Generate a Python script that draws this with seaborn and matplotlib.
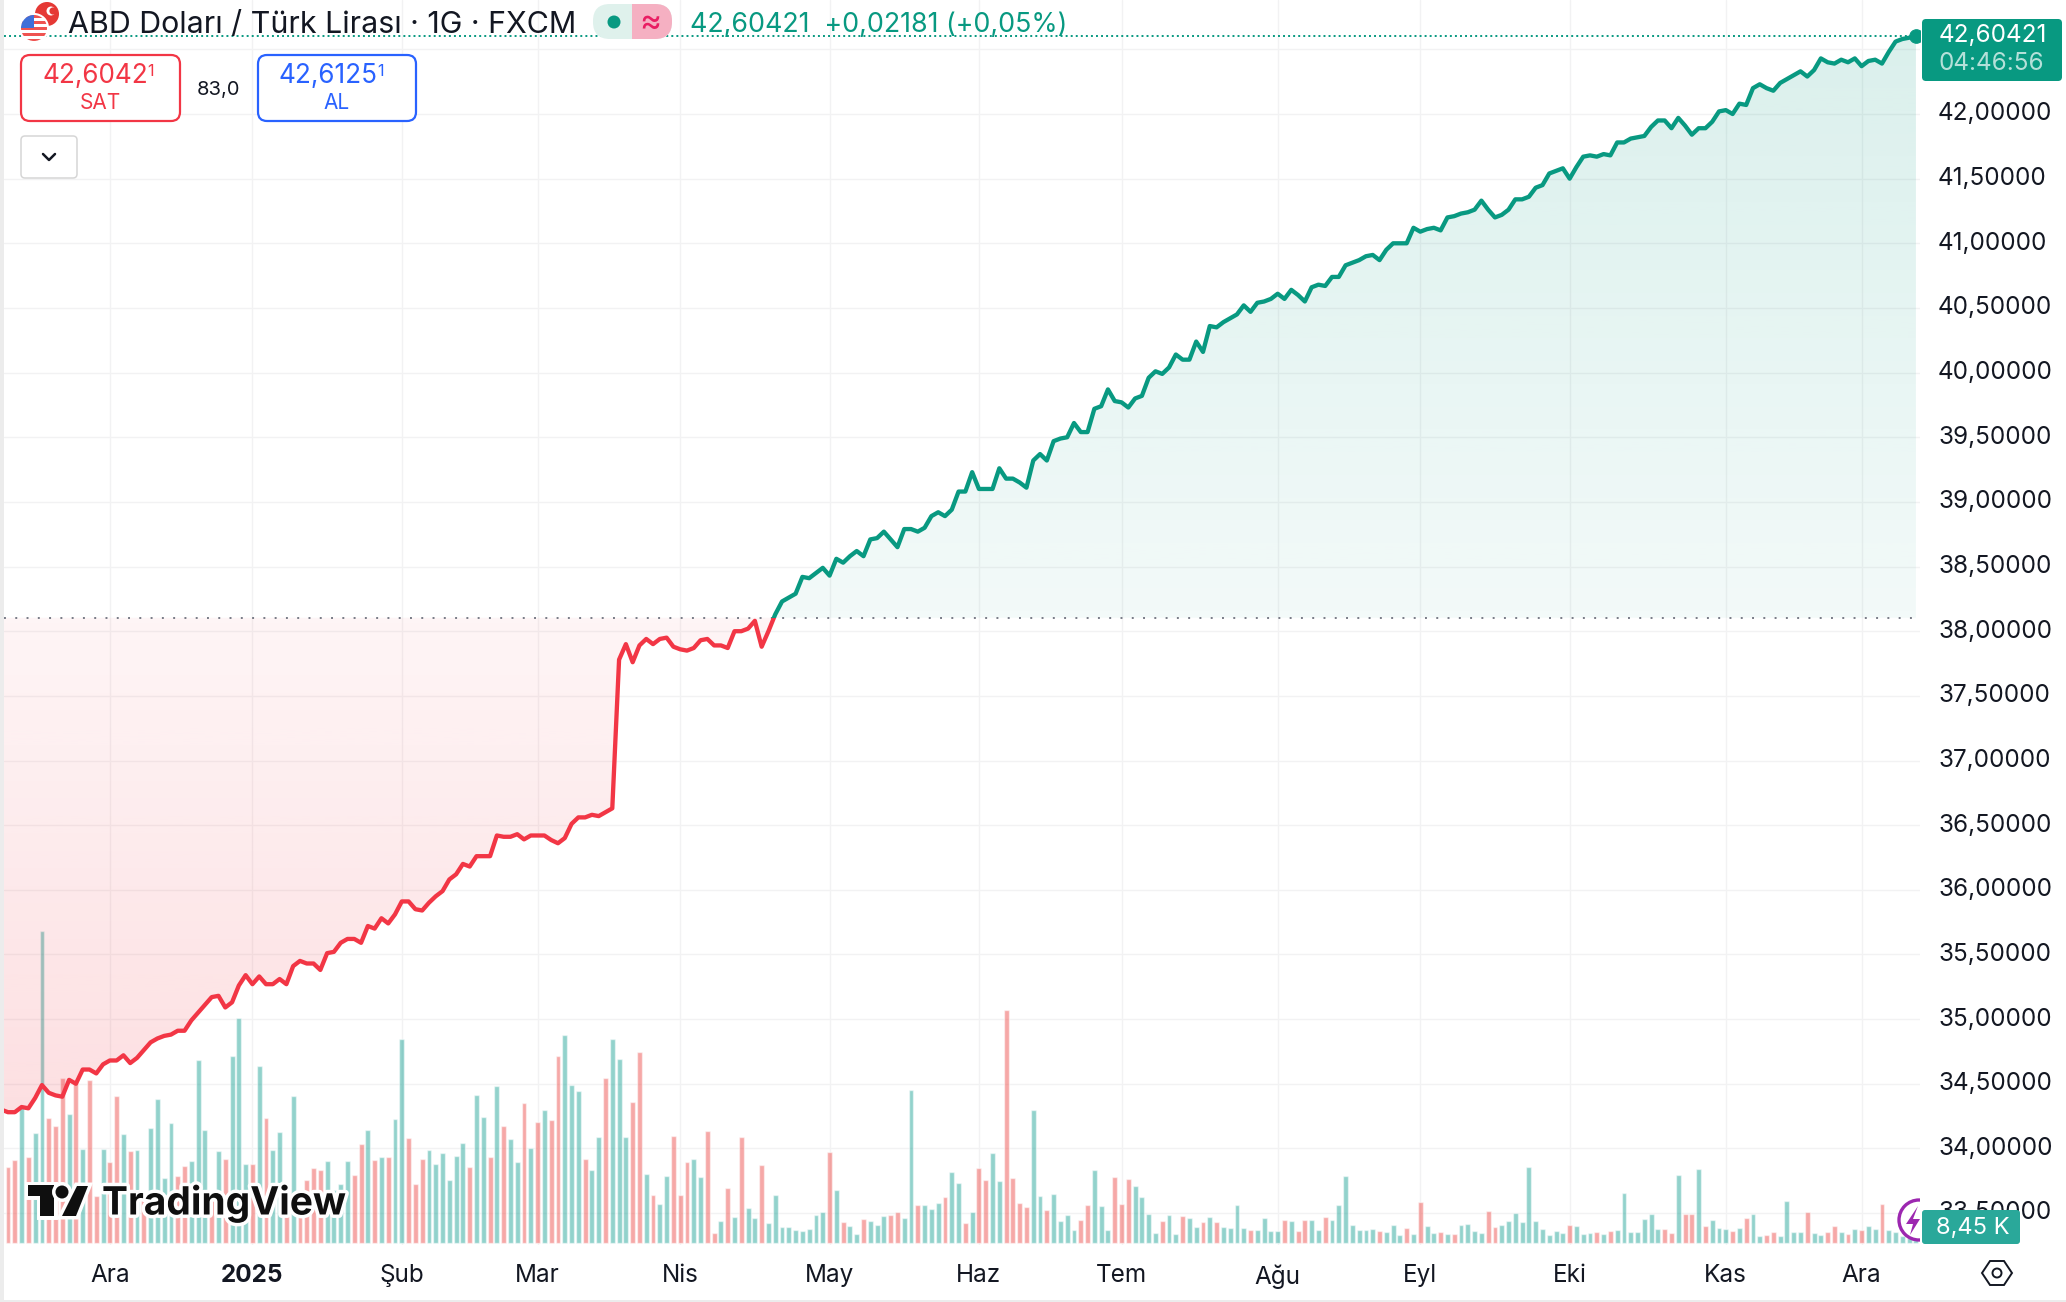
import numpy as np
import pandas as pd
import matplotlib
matplotlib.use('Agg')
import matplotlib.pyplot as plt
import matplotlib.patheffects as pe
from matplotlib.patches import Circle, FancyBboxPatch, Polygon, Rectangle
from matplotlib.path import Path
from matplotlib.colors import LinearSegmentedColormap
from matplotlib.transforms import ScaledTranslation
import seaborn as sns

# Daily closes, first value is the session just left of the chart edge
price = [
    34.30,
    34.28, 34.28, 34.32, 34.31, 34.39, 34.49, 34.43, 34.41, 34.40, 34.53,
    34.50, 34.61, 34.61, 34.58, 34.65, 34.68, 34.68, 34.72, 34.66, 34.70,
    34.76, 34.82, 34.85, 34.87, 34.88, 34.91, 34.91, 34.99, 35.05, 35.11,
    35.17, 35.18, 35.09, 35.13, 35.26, 35.34, 35.27, 35.33, 35.27, 35.27,
    35.31, 35.27, 35.41, 35.45, 35.43, 35.43, 35.38, 35.51, 35.52, 35.59,
    35.62, 35.62, 35.59, 35.72, 35.70, 35.78, 35.74, 35.81, 35.91, 35.91,
    35.85, 35.84, 35.90, 35.95, 35.99, 36.08, 36.12, 36.20, 36.18, 36.26,
    36.26, 36.26, 36.42, 36.41, 36.41, 36.43, 36.39, 36.42, 36.42, 36.42,
    36.385, 36.36, 36.40, 36.51, 36.56, 36.56, 36.58, 36.57, 36.60, 36.63,
    37.78, 37.90, 37.76, 37.89, 37.94, 37.90, 37.94, 37.95, 37.88, 37.86,
    37.85, 37.87, 37.93, 37.94, 37.89, 37.89, 37.87, 38.00, 38.00, 38.02,
    38.08, 37.88, 38.00, 38.13, 38.23, 38.26, 38.29, 38.42, 38.41, 38.45,
    38.49, 38.43, 38.56, 38.53, 38.58, 38.62, 38.58, 38.71, 38.72, 38.77,
    38.71, 38.65, 38.79, 38.79, 38.77, 38.80, 38.89, 38.92, 38.89, 38.94,
    39.08, 39.08, 39.23, 39.10, 39.10, 39.10, 39.26, 39.18, 39.18, 39.15,
    39.11, 39.32, 39.37, 39.32, 39.47, 39.49, 39.50, 39.61, 39.54, 39.54,
    39.72, 39.74, 39.87, 39.78, 39.77, 39.73, 39.80, 39.82, 39.96, 40.01,
    39.99, 40.04, 40.14, 40.10, 40.10, 40.24, 40.16, 40.36, 40.35, 40.39,
    40.42, 40.45, 40.52, 40.47, 40.54, 40.55, 40.57, 40.61, 40.57, 40.64,
    40.60, 40.55, 40.66, 40.68, 40.67, 40.74, 40.74, 40.83, 40.85, 40.87,
    40.90, 40.91, 40.87, 40.95, 41.00, 41.00, 41.00, 41.12, 41.09, 41.11,
    41.12, 41.10, 41.20, 41.21, 41.23, 41.24, 41.26, 41.33, 41.26, 41.20,
    41.22, 41.26, 41.34, 41.34, 41.36, 41.43, 41.45, 41.54, 41.56, 41.58,
    41.50, 41.59, 41.67, 41.68, 41.67, 41.69, 41.68, 41.78, 41.78, 41.81,
    41.82, 41.83, 41.90, 41.95, 41.95, 41.89, 41.97, 41.91, 41.84, 41.89,
    41.89, 41.94, 42.02, 42.03, 42.00, 42.08, 42.07, 42.20, 42.23, 42.20,
    42.18, 42.24, 42.27, 42.30, 42.33, 42.29, 42.34, 42.43, 42.40, 42.39,
    42.42, 42.40, 42.43, 42.37, 42.41, 42.42, 42.39, 42.48, 42.56, 42.58,
    42.59, 42.60421,
]

# Volume bars, relative height
volume = [
    76, 83, 137, 86, 110, 312, 125, 117, 165, 129,
    161, 94, 163, 47, 94, 81, 147, 109, 92, 93,
    43, 115, 144, 65, 120, 67, 77, 82, 183, 113,
    49, 92, 84, 187, 225, 79, 79, 177, 125, 93,
    111, 49, 147, 43, 63, 75, 73, 82, 53, 59,
    82, 68, 99, 113, 83, 86, 86, 124, 204, 105,
    59, 84, 93, 79, 90, 63, 87, 100, 76, 148,
    126, 86, 157, 117, 104, 81, 140, 95, 121, 133,
    123, 187, 208, 158, 152, 84, 73, 106, 165, 204,
    184, 106, 141, 191, 69, 48, 39, 67, 107, 48,
    81, 84, 66, 112, 10, 22, 55, 26, 106, 35,
    25, 78, 20, 48, 16, 16, 13, 12, 14, 28,
    31, 91, 53, 21, 17, 9, 24, 22, 18, 27,
    28, 31, 25, 153, 38, 38, 34, 40, 46, 71,
    60, 20, 31, 75, 63, 90, 62, 233, 65, 40,
    36, 133, 47, 33, 49, 22, 28, 13, 23, 38,
    73, 37, 13, 66, 39, 64, 57, 46, 29, 10,
    22, 28, 9, 27, 25, 16, 21, 26, 21, 16,
    15, 38, 15, 13, 13, 25, 12, 12, 23, 22,
    12, 23, 23, 13, 26, 23, 38, 67, 18, 13,
    13, 14, 12, 11, 18, 8, 15, 9, 41, 17,
    10, 11, 9, 9, 18, 19, 12, 10, 32, 16,
    18, 22, 30, 21, 76, 22, 14, 8, 12, 10,
    18, 17, 9, 10, 11, 9, 12, 13, 50, 11,
    11, 24, 29, 14, 14, 10, 68, 29, 29, 74,
    17, 23, 15, 14, 12, 15, 25, 29, 7, 8,
    11, 7, 42, 11, 11, 31, 10, 8, 11, 17,
    11, 9, 14, 13, 17, 14, 39, 13, 11, 7,
    5, 3,
]

# u = session closed up, d = closed down, ten per row
direction_rows = [
    'dduduudddu', 'dudduddudu', 'duuuudduuu', 'duduuududu', 'ududddduuu',
    'uddududuud', 'dduuuuuudu', 'ududuududu', 'dduuuduudu', 'uudduduudd',
    'duuddududu', 'uduuuuuuuu', 'ududuuduuu', 'dduuduuudu', 'ududduuddd',
    'duuduuuudd', 'uuuddduuuu', 'duuduududu', 'uuuduuuudu', 'dduuduuuuu',
    'uuduuududu', 'ududuuuudd', 'uuuuuuuuuu', 'duuududuuu', 'uuuudduddu',
    'duuududuud', 'duuuuduudd', 'ududuuduuu', 'uu',
]
direction = list(''.join(direction_rows))

# Tick positions are session numbers
month_ticks = [15, 36, 58, 78, 99, 121, 143, 164, 187, 208, 230, 253, 273]
month_labels = ['Ara', '2025', 'Şub', 'Mar', 'Nis', 'May', 'Haz', 'Tem', 'Ağu', 'Eyl', 'Eki', 'Kas', 'Ara']
price_ticks = [33.5, 34.0, 34.5, 35.0, 35.5, 36.0, 36.5, 37.0, 37.5, 38.0, 38.5, 39.0, 39.5, 40.0, 40.5, 41.0, 41.5, 42.0, 42.5]
price_labels = ['33,50000', '34,00000', '34,50000', '35,00000', '35,50000', '36,00000', '36,50000', '37,00000',
                '37,50000', '38,00000', '38,50000', '39,00000', '39,50000', '40,00000', '40,50000', '41,00000',
                '41,50000', '42,00000', '']
base_price = 38.104
last_price = 42.60421

UP = '#089981'
DOWN = '#f23645'
INK = '#131722'
W, H = 2066, 1302

sns.set_style('white')
plt.rcParams['font.family'] = ['Inter', 'DejaVu Sans']

days = np.arange(-1, len(price) - 1)
line_df = pd.DataFrame({'day': days, 'price': price})
bar_df = pd.DataFrame({'day': np.arange(len(volume)), 'volume': volume, 'dir': direction})

fig = plt.figure(figsize=(W / 100, H / 100), dpi=100)
rect = [4 / W, (H - 1245) / H, (1920 - 4) / W, 1245 / H]
xlim = (-0.589, 281.6)
ylim = (33.2529, 42.8817)

# Grid and tick labels at the bottom
ax = fig.add_axes(rect, zorder=1)
ax.set_xlim(xlim)
ax.set_ylim(ylim)
ax.set_xticks(month_ticks)
ax.set_xticklabels(month_labels, fontsize=17.5, color=INK)
ax.get_xticklabels()[1].set_fontweight('bold')
ax.yaxis.tick_right()
ax.set_yticks(price_ticks)
ax.set_yticklabels(price_labels, fontsize=17.5, color=INK)
ax.tick_params(axis='x', length=0, pad=14)
ax.tick_params(axis='y', length=0, pad=13)
for lab in ax.get_yticklabels():
    lab.set_transform(lab.get_transform() + ScaledTranslation(0, 2.6 / 100, fig.dpi_scale_trans))
ax.grid(True, color='#f2f2f3', lw=1.0)
for s in ax.spines.values():
    s.set_visible(False)

# Volume bars
ax_vol = fig.add_axes(rect, zorder=2)
sns.barplot(data=bar_df, x='day', y='volume', hue='dir', palette={'u': '#26a69a', 'd': '#ef5350'},
            native_scale=True, dodge=False, width=0.72, errorbar=None, saturation=1, alpha=0.5,
            legend=False, ax=ax_vol)
ax_vol.set_xlim(xlim)
ax_vol.set_ylim(-2, 1243)
ax_vol.set_axis_off()
ax_vol.patch.set_visible(False)

# Price area and line
ax_price = fig.add_axes(rect, zorder=3)
ax_price.patch.set_visible(False)
ax_price.set_axis_off()
ax_price.set_xlim(xlim)
ax_price.set_ylim(ylim)

x = line_df['day'].to_numpy(dtype=float)
y = line_df['price'].to_numpy()


def gradient_fill(where, colors, y0, y1):
    poly = ax_price.fill_between(x, base_price, y, where=where, interpolate=True, alpha=0)
    clip = Path.make_compound_path(*poly.get_paths())
    cmap = LinearSegmentedColormap.from_list('fade', colors)
    im = ax_price.imshow(np.linspace(0, 1, 256).reshape(-1, 1), extent=(x[0], x[-1], y0, y1),
                         origin='lower', aspect='auto', cmap=cmap, zorder=1)
    im.set_clip_path(clip, transform=ax_price.transData)


gradient_fill(y >= base_price, [(8 / 255, 153 / 255, 129 / 255, 0.05), (8 / 255, 153 / 255, 129 / 255, 0.15)], base_price, last_price)
gradient_fill(y <= base_price, [(242 / 255, 54 / 255, 69 / 255, 0.16), (242 / 255, 54 / 255, 69 / 255, 0.05)], min(price), base_price)

for color, y0, y1 in [(UP, base_price, ylim[1]), (DOWN, ylim[0], base_price)]:
    sns.lineplot(data=line_df, x='day', y='price', color=color, lw=3.1, errorbar=None, ax=ax_price, zorder=4)
    line = ax_price.lines[-1]
    line.set_solid_joinstyle('round')
    line.set_clip_path(Rectangle((x[0], y0), x[-1] - x[0] + 2, y1 - y0, transform=ax_price.transData))

ax_price.plot([xlim[0], x[-1]], [base_price, base_price], color='#787b86', lw=1.4, ls=(0, (1, 4.8)), zorder=3)
ax_price.plot([xlim[0], x[-1]], [last_price, last_price], color=UP, lw=1.4, ls=(0, (1, 1.6)), zorder=3)
sns.scatterplot(x=[x[-1]], y=[last_price], color=UP, s=95, edgecolor=UP, zorder=5, ax=ax_price, legend=False)
ax_price.set_xlim(xlim)
ax_price.set_ylim(ylim)
ax_price.set_axis_off()

# Everything else is page furniture, drawn in pixel coordinates
ov = fig.add_axes([0, 0, 1, 1], zorder=10)
ov.set_xlim(0, W)
ov.set_ylim(H, 0)
ov.set_axis_off()
ov.patch.set_visible(False)

ov.add_patch(Rectangle((0, 0), 4, H, color='#ececec', lw=0))
ov.add_patch(Rectangle((0, 1300), W, 2, color='#ececec', lw=0))

# Flags
ov.add_patch(Circle((47, 14), 12, color='#e53935', lw=0))
ov.add_patch(Circle((51, 11), 4.5, color='white', lw=0))
ov.add_patch(Circle((53, 11), 3.6, color='#e53935', lw=0))
ov.add_patch(Circle((34, 28), 14, color='white', ec='white', lw=1.5))
flag_clip = Circle((34, 28), 13, transform=ov.transData)
for sy in [15, 21, 27, 33, 39]:
    r = ov.add_patch(Rectangle((20, sy), 28, 3, color='#ef5350', lw=0))
    r.set_clip_path(flag_clip)
r = ov.add_patch(Rectangle((20, 15), 14, 13, color='#3f6fd8', lw=0))
r.set_clip_path(flag_clip)

ov.text(68, 25, 'ABD Doları / Türk Lirası · 1G · FXCM', fontsize=21.9, color=INK, va='center', ha='left')

# Status pills
pill = FancyBboxPatch((593, 4), 79, 35, boxstyle='round,pad=0,rounding_size=17', color='#dff1ec', lw=0)
ov.add_patch(pill)
pink = ov.add_patch(Rectangle((632, 4), 40, 35, color='#f5b0c2', lw=0))
pink.set_clip_path(pill)
ov.add_patch(Circle((614, 22), 6.5, color=UP, lw=0))
ov.text(650, 23, '≈', fontsize=24, color='#e91e63', ha='center', va='center')

ov.text(690, 25, '42,60421  +0,02181 (+0,05%)', fontsize=19.3, color=UP, va='center', ha='left')


def quote_box(x0, x1, color, value, label, sup_x):
    ov.add_patch(FancyBboxPatch((x0, 55), x1 - x0, 66, boxstyle='round,pad=0,rounding_size=9',
                                fc='white', ec=color, lw=1.6))
    ov.text(x0 + 21, 76, value, fontsize=18.8, color=color, ha='left', va='center')
    ov.text(sup_x, 72, '1', fontsize=11.5, color=color, ha='center', va='center')
    ov.text((x0 + x1) / 2, 103, label, fontsize=15, color=color, ha='center', va='center')


quote_box(21, 180, DOWN, '42,6042', 'SAT', 151)
quote_box(258, 416, '#2962ff', '42,6125', 'AL', 381)
ov.text(218, 90, '83,0', fontsize=14.5, color=INK, ha='center', va='center')

# Collapse button
ov.add_patch(FancyBboxPatch((21, 136), 56, 42, boxstyle='round,pad=0,rounding_size=4',
                            fc='white', ec='#d6d6d6', lw=1.1))
ov.plot([43, 49, 55], [154, 160, 154], color=INK, lw=1.8)

# TradingView logo
halo = [pe.withStroke(linewidth=5, foreground='white')]
for pts in [[(28, 1185), (54, 1185), (54, 1216), (40, 1216), (40, 1196), (28, 1196)],
            [(77, 1186), (88, 1186), (76, 1216), (62, 1216)]]:
    ov.add_patch(Polygon(pts, color='#0f0f0f', lw=0, path_effects=halo))
ov.add_patch(Circle((62, 1192), 6.5, color='#0f0f0f', lw=0, path_effects=halo))
ov.text(102, 1203, 'TradingView', fontsize=28, fontweight='bold', color='#0f0f0f', va='center', ha='left', path_effects=halo)

# Lightning badge
badge = Circle((1919, 1220), 20, fc='white', ec='#9c27b0', lw=2.4)
ov.add_patch(badge)
badge.set_clip_path(Rectangle((1880, 1190), 40, 60, transform=ov.transData))
ov.add_patch(Polygon([(1918, 1206), (1906, 1224), (1913, 1224), (1910, 1235), (1920, 1219), (1913, 1219)], color='#9c27b0', lw=0))

# Last price and volume labels
ov.add_patch(FancyBboxPatch((1922, 19), 140, 62, boxstyle='round,pad=0,rounding_size=4', color=UP, lw=0))
ov.text(1939, 36, '42,60421', fontsize=17.5, color='white', va='center', ha='left')
ov.text(1939, 63, '04:46:56', fontsize=17.5, color='white', alpha=0.7, va='center', ha='left')
ov.add_patch(FancyBboxPatch((1922, 1210), 98, 34, boxstyle='round,pad=0,rounding_size=3', color='#2aa89a', lw=0))
ov.text(1973, 1228, '8,45 K', fontsize=17, color='white', va='center', ha='center')

# Settings icon
ov.add_patch(Polygon([(1982, 1273), (1990, 1261), (2004, 1261), (2012, 1273), (2004, 1285), (1990, 1285)],
                     fc='none', ec=INK, lw=1.4))
ov.add_patch(Circle((1997, 1273), 4.5, fc='none', ec=INK, lw=1.4))

plt.savefig('out.png', dpi=100)
